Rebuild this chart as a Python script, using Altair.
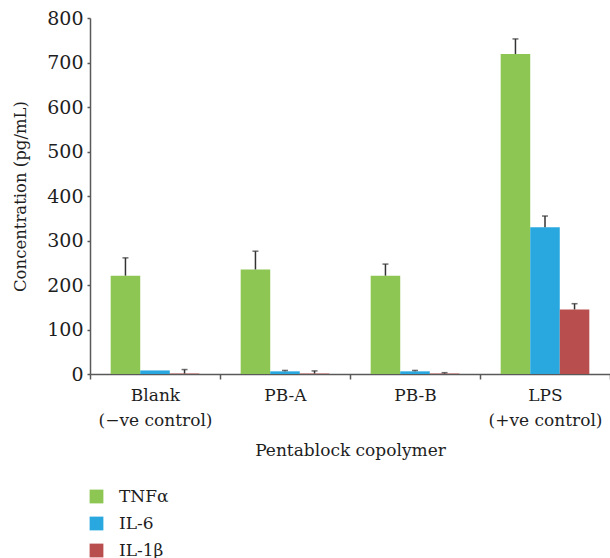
import altair as alt
import pandas as pd

# Cytokine release per treatment group (pg/mL), mean and SD
groups = ["Blank|(−ve control)", "PB-A", "PB-B", "LPS|(+ve control)"]
cytokines = ["TNFα", "IL-6", "IL-1β"]
tnf_mean = [221, 235, 221, 719]
tnf_sd = [40, 41, 26, 34]
il6_mean = [8, 6, 6, 330]
il6_sd = [0, 2, 2, 25]
il1b_mean = [1, 1, 1, 145]
il1b_sd = [9, 6, 2, 13]
colors = ["#8DC653", "#29A8E0", "#B94E4E"]

rows = []
for name, means, sds in zip(cytokines, [tnf_mean, il6_mean, il1b_mean], [tnf_sd, il6_sd, il1b_sd]):
    for g, m, s in zip(groups, means, sds):
        rows.append({"group": g, "cytokine": name, "mean": m, "upper": m + s, "sd": s})
df = pd.DataFrame(rows)

font = "DejaVu Serif"
axis_color = "#595959"
text_color = "#1e1e1e"

x = alt.X(
    "group:N",
    sort=groups,
    scale=alt.Scale(paddingInner=0, paddingOuter=0),
    axis=alt.Axis(
        title="Pentablock copolymer",
        labelExpr="split(datum.label, '|')",
        labelAngle=0,
        tickBand="extent",
        tickSize=5,
        labelPadding=8,
        titlePadding=14,
        labelLineHeight=25,
        labelFontSize=17,
        titleFontSize=17,
    ),
)
xoff = alt.XOffset("cytokine:N", sort=cytokines, scale=alt.Scale(paddingInner=0, paddingOuter=0.7))

bars = alt.Chart(df).mark_bar().encode(
    x=x,
    xOffset=xoff,
    y=alt.Y(
        "mean:Q",
        scale=alt.Scale(domain=[0, 800]),
        axis=alt.Axis(
            title="Concentration (pg/mL)",
            values=list(range(0, 801, 100)),
            tickSize=3,
            labelPadding=4,
            titlePadding=18,
            labelFontSize=19,
            titleFontSize=16.5,
            grid=False,
        ),
    ),
    color=alt.Color(
        "cytokine:N",
        sort=cytokines,
        scale=alt.Scale(domain=cytokines, range=colors),
        legend=alt.Legend(
            title=None,
            orient="none",
            legendX=-2,
            legendY=470,
            symbolType="square",
            symbolSize=190,
            symbolStrokeWidth=0,
            labelFontSize=17,
            labelFont=font,
            labelColor=text_color,
            rowPadding=9,
            labelOffset=14,
        ),
    ),
)

err = df[df["sd"] > 0]
stems = alt.Chart(err).mark_rule(color="#333333", strokeWidth=1.5).encode(
    x=x, xOffset=xoff, y="mean:Q", y2="upper:Q"
)
caps = alt.Chart(err).mark_tick(color="#333333", thickness=1.5, size=6).encode(
    x=x, xOffset=xoff, y="upper:Q"
)

chart = (
    alt.layer(bars, stems, caps)
    .properties(
        width=520,
        height=356,
        autosize=alt.AutoSizeParams(type="none"),
        padding={"left": 90, "top": 18, "right": 0, "bottom": 184},
    )
    .configure_view(stroke=None)
    .configure_axis(
        labelFont=font,
        titleFont=font,
        titleFontWeight="normal",
        labelColor=text_color,
        titleColor=text_color,
        domainColor=axis_color,
        tickColor=axis_color,
        domainWidth=1.5,
        tickWidth=1.5,
    )
)

chart.save("out.html", embed_options={"renderer": "svg", "actions": False})
